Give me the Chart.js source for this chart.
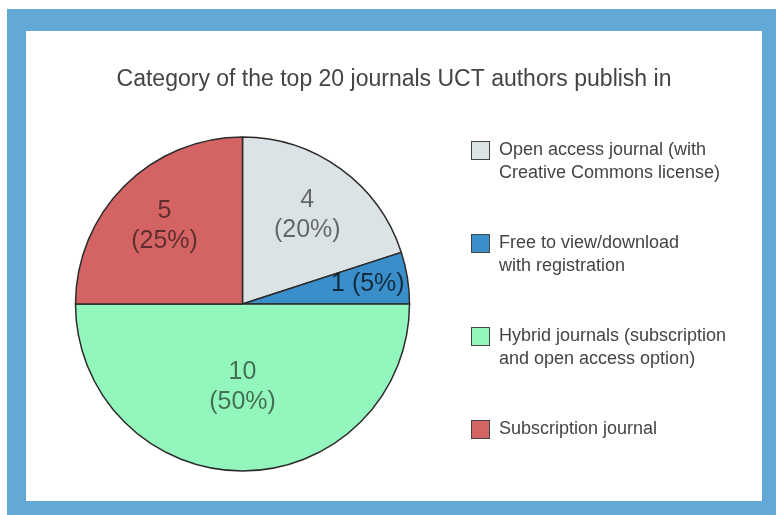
<!DOCTYPE html>
<html lang="en">
<head>
    <meta charset="UTF-8">
    <title>Category of the top 20 journals UCT authors publish in</title>
    <script src="https://cdn.jsdelivr.net/npm/chart.js"></script>
    <style>
        body {
            margin: 0;
            background: #ffffff;
            font-family: Arial, "Liberation Sans", sans-serif;
        }
        #frame {
            position: absolute;
            left: 7px;
            top: 9px;
            width: 769px;
            height: 506px;
            background: #63a9d5;
        }
        #panel {
            position: absolute;
            left: 26px;
            top: 31px;
            width: 736px;
            height: 470px;
            background: #ffffff;
        }
    </style>
</head>
<body>
    <div id="frame"></div>
    <div id="panel">
        <canvas id="pieChart" width="736" height="470"></canvas>
    </div>

    <script>
        const chartTitle = 'Category of the top 20 journals UCT authors publish in';
        const categories = [
            ['Open access journal (with', 'Creative Commons license)'],
            ['Free to view/download', 'with registration'],
            ['Hybrid journals (subscription', 'and open access option)'],
            ['Subscription journal']
        ];
        const journalCounts = [4, 1, 10, 5];
        const sliceColors = ['#dce3e6', '#3a8fcb', '#93f7bd', '#d46464'];

        const FONT = 'Arial, "Liberation Sans", sans-serif';

        // slice labels: value + percentage, drawn inside each arc
        const sliceLabels = {
            id: 'sliceLabels',
            afterDatasetsDraw(chart) {
                const ctx = chart.ctx;
                const meta = chart.getDatasetMeta(0);
                const data = chart.data.datasets[0].data;
                const total = data.reduce((a, b) => a + b, 0);
                ctx.save();
                ctx.font = '25px ' + FONT;
                ctx.textAlign = 'center';
                ctx.textBaseline = 'middle';
                meta.data.forEach((arc, i) => {
                    const p = arc.getProps(['x', 'y', 'startAngle', 'endAngle', 'outerRadius'], true);
                    const span = p.endAngle - p.startAngle;
                    const mid = p.startAngle + span / 2;
                    const pct = Math.round(data[i] / total * 100);
                    let f = 0.66;
                    if (span >= Math.PI) f = 0.5;
                    else if (span < 0.6) f = 0.76;
                    const cx = p.x + Math.cos(mid) * p.outerRadius * f;
                    const cy = p.y + Math.sin(mid) * p.outerRadius * f;
                    ctx.fillStyle = span < 0.6 ? 'rgba(0,0,0,0.7)' : 'rgba(0,0,0,0.55)';
                    if (span < 0.6) {
                        ctx.fillText(data[i] + ' (' + pct + '%)', cx, cy);
                    } else {
                        ctx.fillText(String(data[i]), cx, cy - 15);
                        ctx.fillText('(' + pct + '%)', cx, cy + 15);
                    }
                });
                ctx.restore();
            }
        };

        // title and legend drawn on the canvas
        const sideLegend = {
            id: 'sideLegend',
            afterDraw(chart) {
                const ctx = chart.ctx;
                ctx.save();
                ctx.fillStyle = '#444444';
                ctx.font = '23px ' + FONT;
                ctx.textAlign = 'center';
                ctx.textBaseline = 'middle';
                ctx.fillText(chartTitle, chart.width / 2, 49);

                const colors = chart.data.datasets[0].backgroundColor;
                ctx.font = '18px ' + FONT;
                ctx.textAlign = 'left';
                chart.data.labels.forEach((lines, i) => {
                    const top = 119.5 + i * 93;
                    ctx.fillStyle = colors[i];
                    ctx.fillRect(445.5, top - 9, 18, 18);
                    ctx.strokeStyle = '#444444';
                    ctx.lineWidth = 1;
                    ctx.strokeRect(445.5, top - 9, 18, 18);
                    ctx.fillStyle = '#444444';
                    lines.forEach((line, j) => {
                        ctx.fillText(line, 473, top + j * 22.5);
                    });
                });
                ctx.restore();
            }
        };

        new Chart(document.getElementById('pieChart'), {
            type: 'pie',
            data: {
                labels: categories,
                datasets: [{
                    data: journalCounts,
                    backgroundColor: sliceColors,
                    borderColor: '#2b2b2b',
                    borderWidth: 1.5
                }]
            },
            options: {
                responsive: false,
                animation: false,
                layout: {
                    padding: { left: 48.75, right: 351.75, top: 105.25, bottom: 29.25 }
                },
                plugins: {
                    legend: { display: false },
                    title: { display: false },
                    tooltip: { enabled: false }
                }
            },
            plugins: [sliceLabels, sideLegend]
        });
    </script>
</body>
</html>
